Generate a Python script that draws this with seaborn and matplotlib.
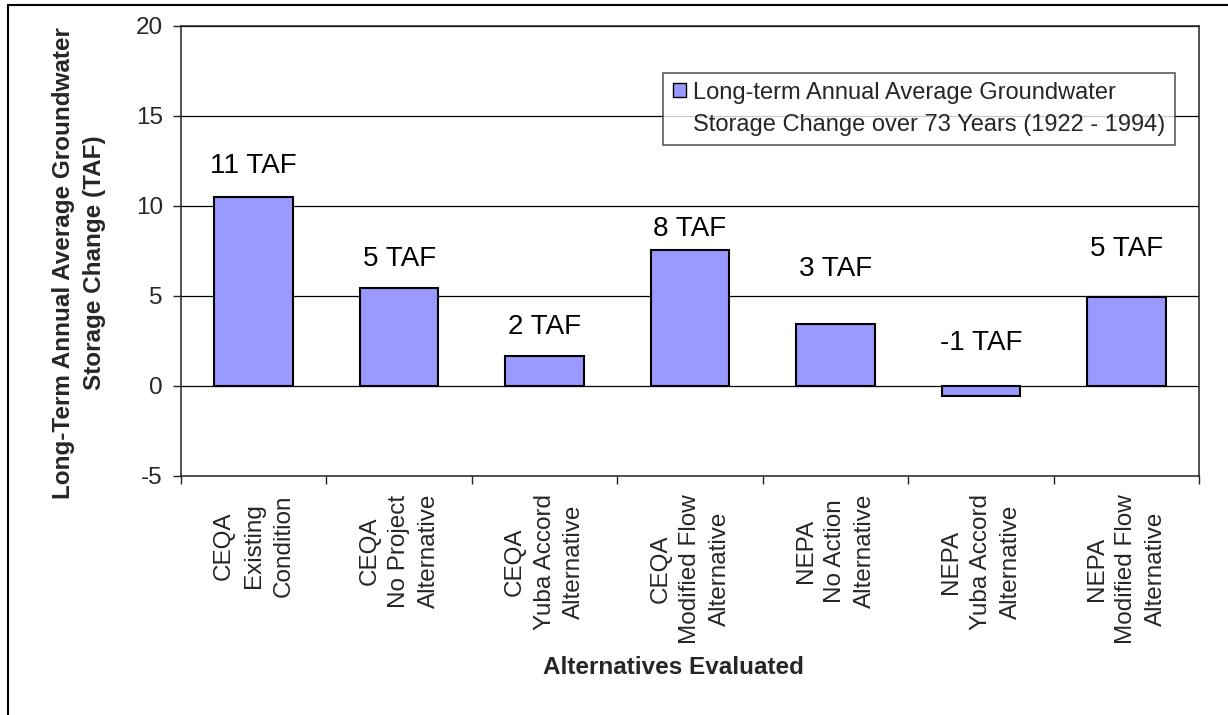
import math
import numpy as np
import matplotlib
matplotlib.use("Agg")
import matplotlib.pyplot as plt
import matplotlib.patches as mpatches
from matplotlib.lines import Line2D
from matplotlib.legend_handler import HandlerPatch
import seaborn as sns

# Alternatives and their long-term annual average groundwater storage change (TAF)
categories = [
    "CEQA\nExisting\nCondition",
    "CEQA\nNo Project\nAlternative",
    "CEQA\nYuba Accord\nAlternative",
    "CEQA\nModified Flow\nAlternative",
    "NEPA\nNo Action\nAlternative",
    "NEPA\nYuba Accord\nAlternative",
    "NEPA\nModified Flow\nAlternative",
]
storage_change = [10.5, 5.45, 1.68, 7.57, 3.46, -0.54, 4.95]
# baseline height (data units) of each value annotation
label_y = [11.83, 6.67, 2.89, 8.33, 6.11, 2.0, 7.2]
yticks = [-5, 0, 5, 10, 15, 20]

legend_label = ("Long-term Annual Average Groundwater\n"
                "Storage Change over 73 Years (1922 - 1994)")
bar_color = "#9999FF"

sns.set_style("white")
plt.rcParams["font.family"] = ["Liberation Sans", "DejaVu Sans"]

W, H = 1228, 715
fig = plt.figure(figsize=(W / 100, H / 100), dpi=100)
ax = fig.add_axes([181 / W, 1 - 476 / H, 1018 / W, 450.3 / H])

sns.barplot(x=categories, y=storage_change, color=bar_color, saturation=1,
            edgecolor="black", linewidth=1.5, width=0.54, ax=ax)

ax.set_ylim(-5, 20)
ax.set_xlim(-0.5, len(categories) - 0.5)
ax.set_yticks(yticks)
ax.set_yticklabels([str(t) for t in yticks])
ax.yaxis.grid(True, color="black", linewidth=0.9)
ax.xaxis.grid(False)
ax.set_axisbelow(True)

for side in ["left", "right", "top", "bottom"]:
    ax.spines[side].set_visible(True)
    ax.spines[side].set_color("#222222")
    ax.spines[side].set_linewidth(1.1)

# category separators as outward ticks on the x axis
ax.set_xticks(np.arange(-0.5, len(categories), 1.0), minor=True)
ax.tick_params(axis="x", which="minor", bottom=True, length=5.5, width=1.0,
               direction="out", color="#222222")
ax.tick_params(axis="x", which="major", bottom=True, length=0, pad=13.0,
               labelsize=17.5)
ax.tick_params(axis="y", which="major", left=True, length=5.5, width=1.0,
               direction="out", color="#222222", pad=7.5, labelsize=17.5)

for lab in ax.get_xticklabels():
    lab.set_rotation(90)
    lab.set_ha("center")
    lab.set_va("top")
    lab.set_multialignment("center")
    lab.set_linespacing(1.45)

def round_half_away(v):
    return int(math.copysign(math.floor(abs(v) + 0.5), v))

for patch, val, ly in zip(ax.patches, storage_change, label_y):
    cx = patch.get_x() + patch.get_width() / 2
    ax.text(cx, ly, f"{round_half_away(val)} TAF", ha="center",
            va="baseline", fontsize=20, color="black")

ax.set_ylabel("Long-Term Annual Average Groundwater\nStorage Change (TAF)",
              fontsize=17.5, fontweight="bold", linespacing=1.45)
ax.yaxis.label.set_va("center")
ax.yaxis.set_label_coords(-0.1002, 0.473)

ax.set_xlabel("Alternatives Evaluated", fontsize=17.5, fontweight="bold")
ax.xaxis.label.set_va("center")
ax.xaxis.set_label_coords(0.484, -0.426)


def raised_square(legend, orig_handle, xdescent, ydescent, width, height, fontsize):
    return mpatches.Rectangle((-xdescent, -ydescent + 0.8 * fontsize), width, height)


handle = mpatches.Patch(facecolor=bar_color, edgecolor="black", linewidth=1.0)
leg = ax.legend([handle], [legend_label], loc="upper right",
                bbox_to_anchor=(0.976, 0.895), borderaxespad=0,
                fontsize=17, frameon=True, fancybox=False, shadow=False,
                handlelength=0.55, handleheight=0.55, handletextpad=0.3,
                borderpad=0.4,
                handler_map={mpatches.Patch: HandlerPatch(patch_func=raised_square)})
leg.get_frame().set_edgecolor("#222222")
leg.get_frame().set_linewidth(1.1)
for t in leg.get_texts():
    t.set_linespacing(1.55)

# outer chart-area border (left and top edges)
fig.add_artist(Line2D([8 / W, 8 / W], [0, 1 - 5 / H], transform=fig.transFigure,
                      color="black", linewidth=1.5))
fig.add_artist(Line2D([8 / W, 1], [1 - 5 / H, 1 - 5 / H], transform=fig.transFigure,
                      color="black", linewidth=1.5))

fig.savefig("out.png", dpi=100, facecolor="white")
